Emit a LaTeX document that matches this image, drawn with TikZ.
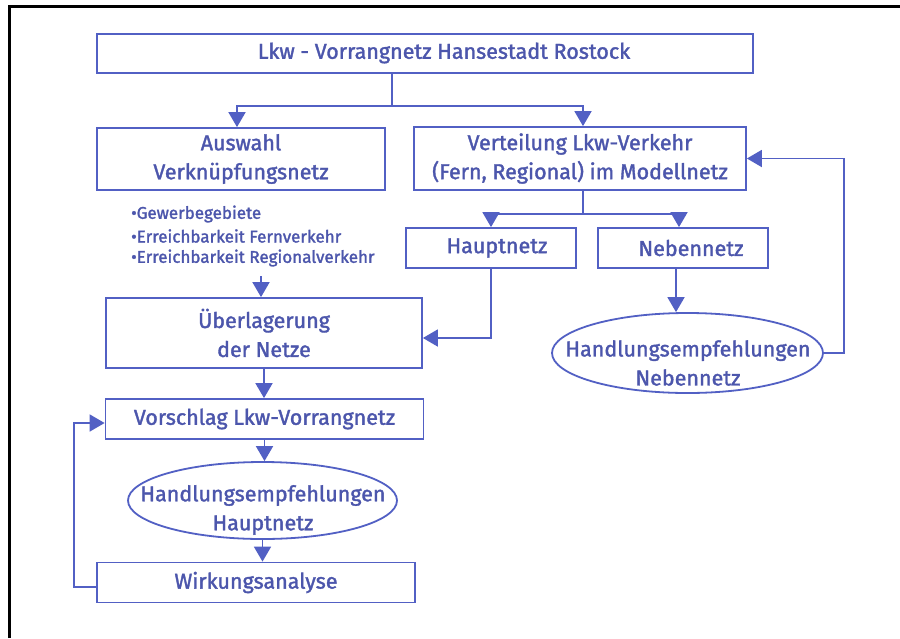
\documentclass[tikz,border=0pt]{standalone}
\usepackage{fontspec}
\setmainfont{Fira Sans}[FakeBold=1.6]
\usetikzlibrary{arrows.meta,shapes.geometric}

\definecolor{lineblue}{RGB}{82,96,196}
\definecolor{txtblue}{RGB}{76,86,172}
\newcommand\lblfont{\fontsize{21.5}{29}\selectfont}
\newcommand\bulfont{\fontsize{17}{18}\selectfont}

\begin{document}
\begin{tikzpicture}[x=1pt,y=-1pt,
  box/.style={draw=lineblue, line width=1.8pt, fill=white, text=txtblue,
              inner sep=0pt, align=center, font=\lblfont},
  oval/.style={ellipse, draw=lineblue, line width=1.8pt, inner sep=0pt},
  lbl/.style={text=txtblue, font=\lblfont, align=center, inner sep=0pt},
  bul/.style={text=txtblue, font=\bulfont, anchor=west, inner sep=0pt},
  ln/.style={draw=lineblue, line width=1.8pt},
  arr/.style={ln, -{Triangle[width=17pt,length=15pt]}}]

\useasboundingbox (0,0) rectangle (900,638);
\fill[white] (0,0) rectangle (900,638);

% outer frame (top and left edges only)
\draw[black, line width=3pt] (9,638) -- (9,6) -- (900,6);

% boxes
\node[box, minimum width=656, minimum height=39] (top) at (425,53.5) {};
\node[lbl] (toptxt) at (444,53) {Lkw - Vorrangnetz Hansestadt Rostock};

\node[box, minimum width=288, minimum height=62] (ausw) at (241,159)
  {Auswahl\\Verknüpfungsnetz};
\node[box, minimum width=332, minimum height=63] (vert) at (580,158.5)
  {Verteilung Lkw-Verkehr\\(Fern, Regional) im Modellnetz};

\node[bul] (b1) at (131,214) {•Gewerbegebiete};
\node[bul] (b2) at (131,236) {•Erreichbarkeit Fernverkehr};
\node[bul] (b3) at (131,258) {•Erreichbarkeit Regionalverkehr};

\node[box, minimum width=170, minimum height=40] (haupt) at (491,248) {};
\node[lbl] (hauptxt) at (497,248) {Hauptnetz};
\node[box, minimum width=170, minimum height=40] (neben) at (683,248) {};
\node[lbl] (nebentxt) at (691,248) {Nebennetz};

\node[box, minimum width=316, minimum height=70] (ueber) at (264,333)
  {Überlagerung\\der Netze};

\node[oval, minimum width=271, minimum height=80] (en) at (687.5,353) {};
\node[lbl] (entxt) at (688,363) {Handlungsempfehlungen\\Nebennetz};

\node[box, minimum width=318, minimum height=40] (vors) at (264.5,419)
  {Vorschlag Lkw-Vorrangnetz};

\node[oval, minimum width=269, minimum height=77] (eh) at (262.5,500.5) {};
\node[lbl] (ehtxt) at (263,510) {Handlungsempfehlungen\\Hauptnetz};

\node[box, minimum width=318, minimum height=40] (wirk) at (256,582.5)
  {Wirkungsanalyse};

% connectors
\coordinate (s1) at (392,106);
\draw[ln] (top.south -| s1) -- (s1);
\draw[arr] (s1) -| ([xshift=-4pt]ausw.north);
\draw[arr] (s1) -| ([xshift=3pt]vert.north);

\coordinate (s2) at (583,214);
\draw[ln] (vert.south -| s2) -- (s2);
\draw[arr] (s2) -| (haupt.north);
\draw[arr] (s2) -| ([xshift=-4pt]neben.north);

\coordinate (c1) at (261,276);
\draw[arr] (c1) -- (c1 |- ueber.north);

\draw[arr] (haupt.south) |- ([yshift=-5pt]ueber.east);

\draw[arr] ([xshift=-7pt]neben.south) -- ([xshift=-7pt]neben.south |- en.north);

\coordinate (fb1) at (844,353);
\draw[arr] (en.east) -- (fb1) |- (vert.east);

\draw[arr] (ueber.south) -- (ueber.south |- vors.north);
\draw[arr] (vors.south) -- (vors.south |- eh.north);
\draw[arr] (eh.south) -- (eh.south |- wirk.north);

\coordinate (fb2) at (74,587);
\draw[arr] ([yshift=-4.5pt]wirk.west) -- (fb2) |- ([yshift=-4pt]vors.west);
\end{tikzpicture}
\end{document}
